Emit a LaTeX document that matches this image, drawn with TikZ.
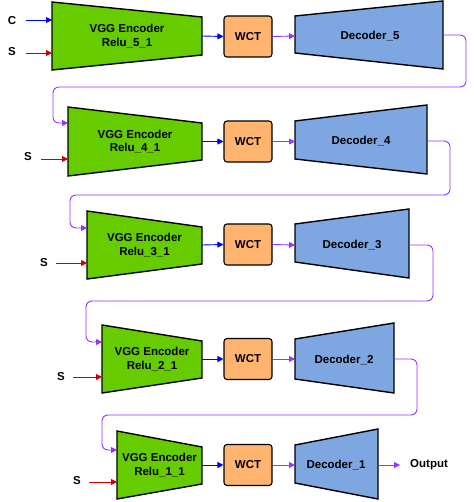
\documentclass[tikz,border=0pt]{standalone}
\usepackage{fontspec}
\setmainfont{Liberation Sans}
\usetikzlibrary{arrows.meta}
\definecolor{encgreen}{HTML}{66CC00}
\definecolor{wctorange}{HTML}{FFB570}
\definecolor{decblue}{HTML}{7EA6E0}
\definecolor{flowpurple}{HTML}{9933FF}
\definecolor{inred}{HTML}{CC0000}
\definecolor{inblue}{HTML}{0000FF}
\tikzset{
  lbl/.style={font=\fontsize{11.5}{13.5}\selectfont\bfseries, align=center, inner sep=0pt},
  encshape/.style={draw=black, fill=encgreen, line width=1.4pt, line join=miter},
  decshape/.style={draw=black, fill=decblue, line width=1.4pt, line join=miter},
  wctbox/.style={draw=black, fill=wctorange, line width=1.1pt, rounded corners=3pt, minimum width=48pt, minimum height=41pt, inner sep=0pt, font=\fontsize{11.5}{13.5}\selectfont\bfseries},
  tip/.style={-{Triangle[length=6pt,width=6pt]}, line width=0.9pt},
  flow/.style={tip, draw=flowpurple, rounded corners=6pt},
  cin/.style={tip, draw=inblue},
  sin/.style={tip, draw=inred},
}
\begin{document}
\begin{tikzpicture}[x=1pt,y=-1pt]
\useasboundingbox (0,0) rectangle (473,502);
% ---------- Row 1 ----------
\draw[encshape] (52,2) -- (202,17) -- (202,55) -- (52,70) -- cycle;
\node[lbl] (e5) at (127,36) {VGG Encoder\\Relu\_5\_1};
\coordinate (e5c) at (52,20);
\coordinate (e5s) at (52,53);
\coordinate (e5o) at (202,36);
\node[wctbox] (w5) at (248,36.5) {WCT};
\draw[decshape] (295,16) -- (443,1) -- (443,69) -- (295,53) -- cycle;
\node[lbl] (d5) at (370,36) {Decoder\_5};
\coordinate (d5i) at (295,36);
\coordinate (d5o) at (443,35);
\node[lbl] (lc) at (12,21) {C};
\node[lbl] (ls1) at (12,52) {S};
\coordinate (c1) at (26,20);
\coordinate (s1) at (26,53);
\draw[cin] (c1) -- (e5c);
\draw[sin] (s1) -- (e5s);
\draw[tip, draw=inblue] (e5o) -- (w5.west);
\draw[tip, draw=flowpurple] (w5.east) -- (d5i);
% ---------- Row 2 ----------
\draw[encshape] (68,107) -- (202,123) -- (202,160) -- (68,176) -- cycle;
\node[lbl] (e4) at (135,141.5) {VGG Encoder\\Relu\_4\_1};
\coordinate (e4t) at (68,123);
\coordinate (e4s) at (68,159);
\coordinate (e4o) at (202,141.5);
\node[wctbox] (w4) at (248,141.5) {WCT};
\draw[decshape] (295,121) -- (427,105) -- (427,174) -- (295,159) -- cycle;
\node[lbl] (d4) at (361,141) {Decoder\_4};
\coordinate (d4i) at (295,141.5);
\coordinate (d4o) at (427,141);
\node[lbl] (ls2) at (28,157) {S};
\coordinate (s2) at (41,159);
\draw[sin] (s2) -- (e4s);
\draw[tip, draw=inblue] (e4o) -- (w4.west);
\draw[tip, draw=flowpurple] (w4.east) -- (d4i);
\draw[flow] (d5o) -- (466,35) -- (466,87) -- (53,87) -- (53,123) -- (e4t);
% ---------- Row 3 ----------
\draw[encshape] (87,211) -- (202,227) -- (202,264) -- (87,279) -- cycle;
\node[lbl] (e3) at (144.5,245) {VGG Encoder\\Relu\_3\_1};
\coordinate (e3t) at (87,228);
\coordinate (e3s) at (87,263);
\coordinate (e3o) at (202,245);
\node[wctbox] (w3) at (248,244.5) {WCT};
\draw[decshape] (295,224) -- (409,209) -- (409,278) -- (295,262) -- cycle;
\node[lbl] (d3) at (352,245) {Decoder\_3};
\coordinate (d3i) at (295,245);
\coordinate (d3o) at (409,245);
\node[lbl] (ls3) at (44,263) {S};
\coordinate (s3) at (56,263);
\draw[sin] (s3) -- (e3s);
\draw[tip, draw=inblue] (e3o) -- (w3.west);
\draw[tip, draw=flowpurple] (w3.east) -- (d3i);
\draw[flow] (d4o) -- (450,141) -- (450,195) -- (70,195) -- (70,228) -- (e3t);
% ---------- Row 4 ----------
\draw[encshape] (102,325) -- (202,341) -- (202,378) -- (102,393) -- cycle;
\node[lbl] (e2) at (152,359) {VGG Encoder\\Relu\_2\_1};
\coordinate (e2t) at (102,342);
\coordinate (e2s) at (102,377);
\coordinate (e2o) at (202,359);
\node[wctbox] (w2) at (248,359) {WCT};
\draw[decshape] (295,339) -- (394,323) -- (394,393) -- (295,379) -- cycle;
\node[lbl] (d2) at (344,360) {Decoder\_2};
\coordinate (d2i) at (295,359);
\coordinate (d2o) at (394,359);
\node[lbl] (ls4) at (61,377) {S};
\coordinate (s4) at (73,377);
\draw[sin] (s4) -- (e2s);
\draw[tip, draw=inblue] (e2o) -- (w2.west);
\draw[tip, draw=flowpurple] (w2.east) -- (d2i);
\draw[flow] (d3o) -- (433,245) -- (433,301) -- (86,301) -- (86,342) -- (e2t);
% ---------- Row 5 ----------
\draw[encshape] (117,431) -- (202,447) -- (202,484) -- (117,499) -- cycle;
\node[lbl] (e1) at (159.5,465) {VGG Encoder\\Relu\_1\_1};
\coordinate (e1t) at (117,450);
\coordinate (e1s) at (117,482);
\coordinate (e1o) at (202,465);
\node[wctbox] (w1) at (248,465) {WCT};
\draw[decshape] (295,445) -- (378,429) -- (378,499) -- (295,483) -- cycle;
\node[lbl] (d1) at (336,465) {Decoder\_1};
\coordinate (d1i) at (295,465);
\coordinate (d1o) at (378,465);
\node[lbl, anchor=west] (out) at (410,465) {Output};
\node[lbl] (ls5) at (77,481) {S};
\coordinate (s5) at (89,482);
\draw[sin] (s5) -- (e1s);
\draw[tip, draw=inblue] (e1o) -- (w1.west);
\draw[tip, draw=flowpurple] (w1.east) -- (d1i);
\draw[flow] (d2o) -- (417,359) -- (417,415) -- (102,415) -- (102,450) -- (e1t);
\draw[tip, draw=flowpurple] (d1o) -- ([xshift=-10pt]out.west);
\end{tikzpicture}
\end{document}
